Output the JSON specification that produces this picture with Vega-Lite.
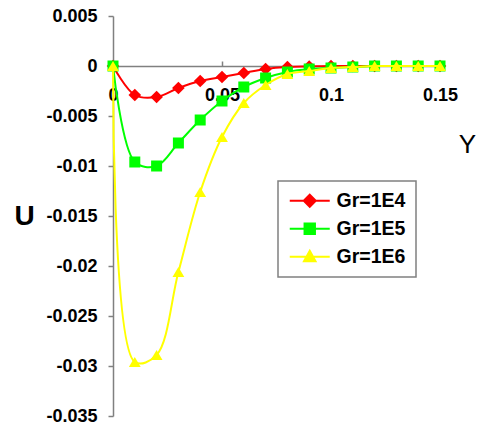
{
  "$schema": "https://vega.github.io/schema/vega-lite/v6.json",
  "width": 327,
  "height": 400,
  "autosize": {"type": "none"},
  "padding": {"left": 113, "top": 16, "right": 37, "bottom": 15},
  "background": "white",
  "config": {
    "view": {"stroke": null},
    "font": "Liberation Sans",
    "axis": {"grid": false, "domainColor": "#808080", "tickColor": "#808080", "domainWidth": 1.5, "tickWidth": 1.5,
             "labelFont": "Liberation Sans", "labelFontWeight": "bold", "labelFontSize": 18, "labelColor": "black",
             "titleFont": "Liberation Sans", "titleFontWeight": "bold", "titleColor": "black"}
  },
  "data": {
    "values": [
      {"Y": 0.00, "U": 0, "series": "Gr=1E4"},
      {"Y": 0.01, "U": -0.0029, "series": "Gr=1E4"},
      {"Y": 0.02, "U": -0.0031, "series": "Gr=1E4"},
      {"Y": 0.03, "U": -0.0022, "series": "Gr=1E4"},
      {"Y": 0.04, "U": -0.0015, "series": "Gr=1E4"},
      {"Y": 0.05, "U": -0.0011, "series": "Gr=1E4"},
      {"Y": 0.06, "U": -0.0007, "series": "Gr=1E4"},
      {"Y": 0.07, "U": -0.0003, "series": "Gr=1E4"},
      {"Y": 0.08, "U": -0.0001, "series": "Gr=1E4"},
      {"Y": 0.09, "U": -0.00005, "series": "Gr=1E4"},
      {"Y": 0.10, "U": 0, "series": "Gr=1E4"},
      {"Y": 0.11, "U": 0, "series": "Gr=1E4"},
      {"Y": 0.12, "U": 0, "series": "Gr=1E4"},
      {"Y": 0.13, "U": 0, "series": "Gr=1E4"},
      {"Y": 0.14, "U": 0, "series": "Gr=1E4"},
      {"Y": 0.15, "U": 0, "series": "Gr=1E4"},
      {"Y": 0.00, "U": 0, "series": "Gr=1E5"},
      {"Y": 0.01, "U": -0.0096, "series": "Gr=1E5"},
      {"Y": 0.02, "U": -0.0100, "series": "Gr=1E5"},
      {"Y": 0.03, "U": -0.0077, "series": "Gr=1E5"},
      {"Y": 0.04, "U": -0.0054, "series": "Gr=1E5"},
      {"Y": 0.05, "U": -0.0035, "series": "Gr=1E5"},
      {"Y": 0.06, "U": -0.0021, "series": "Gr=1E5"},
      {"Y": 0.07, "U": -0.0012, "series": "Gr=1E5"},
      {"Y": 0.08, "U": -0.0006, "series": "Gr=1E5"},
      {"Y": 0.09, "U": -0.0003, "series": "Gr=1E5"},
      {"Y": 0.10, "U": -0.0002, "series": "Gr=1E5"},
      {"Y": 0.11, "U": -0.0001, "series": "Gr=1E5"},
      {"Y": 0.12, "U": 0, "series": "Gr=1E5"},
      {"Y": 0.13, "U": 0, "series": "Gr=1E5"},
      {"Y": 0.14, "U": 0, "series": "Gr=1E5"},
      {"Y": 0.15, "U": 0, "series": "Gr=1E5"},
      {"Y": 0.00, "U": 0, "series": "Gr=1E6"},
      {"Y": 0.01, "U": -0.0296, "series": "Gr=1E6"},
      {"Y": 0.02, "U": -0.0289, "series": "Gr=1E6"},
      {"Y": 0.03, "U": -0.0206, "series": "Gr=1E6"},
      {"Y": 0.04, "U": -0.0126, "series": "Gr=1E6"},
      {"Y": 0.05, "U": -0.0071, "series": "Gr=1E6"},
      {"Y": 0.06, "U": -0.0037, "series": "Gr=1E6"},
      {"Y": 0.07, "U": -0.0019, "series": "Gr=1E6"},
      {"Y": 0.08, "U": -0.0008, "series": "Gr=1E6"},
      {"Y": 0.09, "U": -0.0005, "series": "Gr=1E6"},
      {"Y": 0.10, "U": -0.0002, "series": "Gr=1E6"},
      {"Y": 0.11, "U": -0.0001, "series": "Gr=1E6"},
      {"Y": 0.12, "U": 0, "series": "Gr=1E6"},
      {"Y": 0.13, "U": 0, "series": "Gr=1E6"},
      {"Y": 0.14, "U": 0, "series": "Gr=1E6"},
      {"Y": 0.15, "U": 0, "series": "Gr=1E6"}
    ]
  },
  "encoding": {
    "x": {
      "field": "Y", "type": "quantitative",
      "scale": {"domain": [0, 0.15], "nice": false, "zero": false},
      "axis": {"orient": "bottom", "offset": -350, "values": [0, 0.05, 0.1, 0.15],
               "labelExpr": "format(datum.value, '.2~f')",
               "tickSize": -5, "labelPadding": 25, "labelFlush": false,
               "title": "Y", "titleFontSize": 26, "titleFontWeight": "normal", "titleAngle": 0, "titleX": 354, "titleY": 78,
               "titleAlign": "center", "titleBaseline": "middle"}
    },
    "y": {
      "field": "U", "type": "quantitative",
      "scale": {"domain": [-0.035, 0.005], "nice": false, "zero": false},
      "axis": {"values": [0.005, 0, -0.005, -0.01, -0.015, -0.02, -0.025, -0.03, -0.035],
               "labelExpr": "replace(format(datum.value, '~g'), '\u2212', '-')",
               "tickSize": 5, "labelPadding": 11, "labelFlush": false,
               "title": "U", "titleFontSize": 28, "titleAngle": 0, "titleX": -89, "titleY": 200,
               "titleAlign": "center", "titleBaseline": "middle"}
    },
    "color": {
      "field": "series", "type": "nominal",
      "scale": {"domain": ["Gr=1E4", "Gr=1E5", "Gr=1E6"], "range": ["#ff0000", "#00ff00", "#ffff00"]},
      "legend": {
        "title": null, "orient": "none", "legendX": 165, "legendY": 165,
        "padding": 10, "strokeColor": "#808080", "fillColor": "white",
        "symbolSize": 256, "symbolOffset": 12, "rowPadding": 7,
        "labelFont": "Liberation Sans", "labelFontWeight": "bold", "labelFontSize": 19.5, "labelColor": "black", "labelOffset": 17,
        "encode": {
          "legend": {"update": {"strokeWidth": {"value": 1.5}}},
          "symbols": {
            "update": {
              "shape": {"signal": "datum.value === 'Gr=1E4' ? 'M-2.5,0L2.5,0M0,-0.75L0.75,0L0,0.75L-0.75,0Z' : datum.value === 'Gr=1E5' ? 'M-2.5,0L2.5,0M-0.65,-0.65L0.65,-0.65L0.65,0.65L-0.65,0.65Z' : 'M-2.5,0L2.5,0M0,-0.75L0.72,0.55L-0.72,0.55Z'"},
              "fill": {"scale": "color", "field": "value"},
              "stroke": {"scale": "color", "field": "value"},
              "strokeWidth": {"value": 2},
              "opacity": {"value": 1}
            }
          }
        }
      }
    }
  },
  "layer": [
    {
      "transform": [{"filter": "datum.series === 'Gr=1E4'"}],
      "mark": {"type": "line", "strokeWidth": 2, "interpolate": "catmull-rom"}
    },
    {
      "transform": [{"filter": "datum.series === 'Gr=1E4'"}],
      "mark": {"type": "point", "shape": "diamond", "filled": true, "opacity": 1, "size": 160}
    },
    {
      "transform": [{"filter": "datum.series === 'Gr=1E5'"}],
      "mark": {"type": "line", "strokeWidth": 2, "interpolate": "catmull-rom"}
    },
    {
      "transform": [{"filter": "datum.series === 'Gr=1E5'"}],
      "mark": {"type": "point", "shape": "square", "filled": true, "opacity": 1, "size": 121}
    },
    {
      "transform": [{"filter": "datum.series === 'Gr=1E6'"}],
      "mark": {"type": "line", "strokeWidth": 2, "interpolate": "catmull-rom"}
    },
    {
      "transform": [{"filter": "datum.series === 'Gr=1E6'"}],
      "mark": {"type": "point", "shape": "triangle-up", "filled": true, "opacity": 1, "size": 140}
    }
  ]
}
